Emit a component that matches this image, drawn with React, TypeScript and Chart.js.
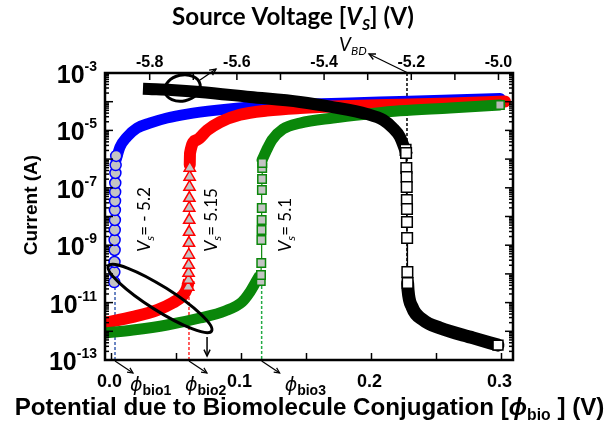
import React, { useEffect, useRef } from "react";
import { Chart, registerables } from "chart.js";
Chart.register(...registerables);

// ---------- axis ticks ----------
const phiTickValues = [0, 0.05, 0.1, 0.15, 0.2, 0.25, 0.3];
const phiLabelValues = [0, 0.1, 0.2, 0.3];
const phiLabels = ["0.0", "0.1", "0.2", "0.3"];
const vsTickValues = [-5.8, -5.7, -5.6, -5.5, -5.4, -5.3, -5.2, -5.1, -5.0];
const vsLabelValues = [-5.8, -5.6, -5.4, -5.2, -5.0];
const vsLabels = ["-5.8", "-5.6", "-5.4", "-5.2", "-5.0"];
const yLabelExponents = [-3, -5, -7, -9, -11, -13];
const logMultipliers = [1, 2, 3, 4, 5, 6, 7, 8, 9];

// ---------- Vs = -5.2 (blue circles) ----------
const blueMarkPhi = [0.0021, 0.0022, 0.0023, 0.0024, 0.0024, 0.0025, 0.0026, 0.0026, 0.0027, 0.0028, 0.0029, 0.003, 0.0032, 0.0036];
const blueMarkCurrent = [5.2e-11, 1.16e-10, 2.6e-10, 6.8e-10, 1.52e-9, 3.39e-9, 7.55e-9, 1.68e-8, 3.47e-8, 7.14e-8, 1.47e-7, 3.28e-7, 6.2e-7, 1.29e-6];
const blueBandPhi = [0.0035, 0.0065, 0.0119, 0.0196, 0.0296, 0.0427, 0.0581, 0.0812, 0.1065, 0.132, 0.153, 0.183, 0.222, 0.261, 0.299];
const blueBandCurrent = [9.3e-7, 2.6e-6, 5.9e-6, 1.2e-5, 1.8e-5, 2.7e-5, 3.7e-5, 5.1e-5, 6.6e-5, 7.7e-5, 8.3e-5, 9.0e-5, 1.02e-4, 1.15e-4, 1.29e-4];

// ---------- Vs = -5.15 (red triangles) ----------
const redLowPhi = [-0.005, 0.0165, 0.035, 0.0473, 0.055, 0.0581, 0.0596];
const redLowCurrent = [2.0e-12, 3.2e-12, 5.5e-12, 1.0e-11, 1.8e-11, 3.2e-11, 6.1e-11];
const redMarkPhi = [0.059, 0.0592, 0.0593, 0.0594, 0.0595, 0.0596, 0.0597, 0.0598, 0.0598, 0.0599, 0.06, 0.0601, 0.0602];
const redMarkCurrent = [3.5e-11, 6.1e-11, 1.07e-10, 2.04e-10, 4.56e-10, 1.19e-9, 2.88e-9, 7.55e-9, 1.98e-8, 4.41e-8, 1.07e-7, 2.38e-7, 4.9e-7];
const redHighPhi = [0.0602, 0.0604, 0.0658, 0.0735, 0.0835, 0.0988, 0.1196, 0.145, 0.1835, 0.2223, 0.2608, 0.3027];
const redHighCurrent = [6.3e-7, 1.6e-6, 4.7e-6, 1.0e-5, 1.95e-5, 3.5e-5, 4.9e-5, 6.0e-5, 7.1e-5, 7.9e-5, 8.7e-5, 1.02e-4];

// ---------- Vs = -5.1 (green squares) ----------
const greenLowPhi = [-0.005, 0.0165, 0.0427, 0.068, 0.0873, 0.1004, 0.1065, 0.111, 0.1142];
const greenLowCurrent = [8.7e-13, 1.11e-12, 1.66e-12, 2.9e-12, 5.1e-12, 1.05e-11, 2.34e-11, 5.2e-11, 9.2e-11];
const greenMarkPhi = [0.1148, 0.115, 0.1152, 0.1153, 0.1154, 0.1155, 0.1156, 0.1157, 0.1158, 0.1159, 0.116];
const greenMarkCurrent = [5.66e-11, 9.17e-11, 2.4e-10, 1.52e-9, 3.39e-9, 7.55e-9, 1.98e-8, 8.38e-8, 2.03e-7, 4.9e-7, 7.31e-7];
const greenHighPhi = [0.1158, 0.1204, 0.1235, 0.1319, 0.145, 0.1704, 0.1965, 0.2219, 0.2604, 0.2988];
const greenHighCurrent = [9.3e-7, 2.6e-6, 4.7e-6, 1.12e-5, 1.8e-5, 2.7e-5, 3.7e-5, 4.8e-5, 6.0e-5, 7.7e-5];

// ---------- Source-voltage sweep (black squares) ----------
const blackHighPhi = [0.0288, 0.046, 0.068, 0.1065, 0.145, 0.17, 0.1965, 0.209, 0.2165, 0.2219, 0.2258];
const blackHighCurrent = [2.77e-4, 2.57e-4, 2.19e-4, 1.46e-4, 9.8e-5, 6.5e-5, 3.7e-5, 2.3e-5, 1.2e-5, 5.9e-6, 2.1e-6];
const blackMarkPhi = [0.2262, 0.2266, 0.2268, 0.227, 0.2271, 0.2272, 0.2273, 0.2273, 0.2274, 0.2276, 0.2278];
const blackMarkCurrent = [2.1e-6, 1.63e-6, 4.9e-7, 2.38e-7, 1.07e-7, 3.76e-8, 1.82e-8, 6.43e-9, 1.78e-9, 1.16e-10, 4.82e-11];
const blackLowPhi = [0.2278, 0.2281, 0.2312, 0.2396, 0.2527, 0.2781, 0.2973];
const blackLowCurrent = [4.8e-11, 2.75e-11, 7.1e-12, 2.5e-12, 1.3e-12, 5.9e-13, 3.3e-13];

// ---------- reference lines ----------
const phiBio = [0.0027, 0.0596, 0.1155];
const phiBioTop = [5.2e-11, 3.5e-11, 5.66e-11];
const phiBioNames = ["bio1", "bio2", "bio3"];
const phiVBD = 0.2273;
const vbdLineCurrent = [1e-3, 1.16e-10];

const vsNoteTexts = ["= - 5.2", "= 5.15", "= 5.1"];
const vsNotePhi = [0.0296, 0.0812, 0.1381];
const vsNoteCurrent = 5.8e-10;

const BLUE = "#0000ff";
const RED = "#ff0000";
const GREEN = "#0a870a";
const GRAY = "#c4c4c4";

const pts = (xs: number[], ys: number[]) => xs.map((x, i) => ({ x, y: ys[i] }));

const band = (xs: number[], ys: number[], color: string, width: number, cap: string) => ({
  data: pts(xs, ys),
  showLine: true,
  borderColor: color,
  borderWidth: width,
  borderCapStyle: cap,
  borderJoinStyle: "round",
  pointRadius: 0,
  cubicInterpolationMode: "monotone",
  clip: 0,
  xAxisID: "x",
  yAxisID: "y",
});

const markers = (xs: number[], ys: number[], color: string, style: string, r: number, fill: string) => ({
  data: pts(xs, ys),
  showLine: true,
  borderColor: color,
  borderWidth: 1.2,
  pointStyle: style,
  pointRadius: r,
  pointBorderColor: color,
  pointBackgroundColor: fill,
  pointBorderWidth: 1.5,
  clip: 0,
  xAxisID: "x",
  yAxisID: "y",
});

const dotted = (xs: number[], ys: number[], color: string) => ({
  data: pts(xs, ys),
  showLine: true,
  borderColor: color,
  borderWidth: 1.5,
  borderDash: [3, 2],
  pointRadius: 0,
  clip: 0,
  xAxisID: "x",
  yAxisID: "y",
});

type Part = { t: string; f: string; dy?: number };
function measureParts(ctx: CanvasRenderingContext2D, parts: Part[]) {
  let w = 0;
  for (const p of parts) {
    ctx.font = p.f;
    w += ctx.measureText(p.t).width;
  }
  return w;
}
function drawParts(ctx: CanvasRenderingContext2D, parts: Part[], x: number, y: number, align: string) {
  const w = measureParts(ctx, parts);
  let cx = align === "center" ? x - w / 2 : align === "right" ? x - w : x;
  ctx.textAlign = "left";
  ctx.textBaseline = "alphabetic";
  for (const p of parts) {
    ctx.font = p.f;
    ctx.fillText(p.t, cx, y + (p.dy || 0));
    cx += ctx.measureText(p.t).width;
  }
  return w;
}

function arrow(ctx: CanvasRenderingContext2D, x1: number, y1: number, x2: number, y2: number, head = 7, lw = 1.5) {
  ctx.lineWidth = lw;
  ctx.beginPath();
  ctx.moveTo(x1, y1);
  ctx.lineTo(x2, y2);
  ctx.stroke();
  const ang = Math.atan2(y2 - y1, x2 - x1);
  ctx.beginPath();
  ctx.moveTo(x2 - head * Math.cos(ang - 0.45), y2 - head * Math.sin(ang - 0.45));
  ctx.lineTo(x2, y2);
  ctx.lineTo(x2 - head * Math.cos(ang + 0.45), y2 - head * Math.sin(ang + 0.45));
  ctx.stroke();
}

const overlay = {
  id: "overlay",
  afterDraw(chart: any) {
    const { ctx, chartArea: a, scales } = chart;
    const sx = scales.x, sy = scales.y, st = scales.xTop;
    ctx.save();
    ctx.strokeStyle = "#000";
    ctx.fillStyle = "#000";
    const seg = (x1: number, y1: number, x2: number, y2: number) => {
      ctx.beginPath();
      ctx.moveTo(x1, y1);
      ctx.lineTo(x2, y2);
      ctx.stroke();
    };
    // ticks
    ctx.lineWidth = 1.5;
    phiTickValues.forEach((v) => {
      const px = sx.getPixelForValue(v);
      seg(px, a.bottom, px, a.bottom - 7);
    });
    vsTickValues.forEach((v) => {
      const px = st.getPixelForValue(v);
      seg(px, a.top, px, a.top + 7);
    });
    for (let e = -13; e < -3; e++) {
      for (const m of logMultipliers) {
        const py = sy.getPixelForValue(m * Math.pow(10, e));
        const len = m === 1 ? 8 : 4;
        seg(a.left, py, a.left + len, py);
        seg(a.right, py, a.right - len, py);
      }
    }
    // frame
    ctx.lineWidth = 2.5;
    ctx.strokeRect(a.left, a.top, a.right - a.left, a.bottom - a.top);

    // y tick labels
    yLabelExponents.forEach((e) => {
      const py = sy.getPixelForValue(Math.pow(10, e));
      drawParts(ctx, [
        { t: "10", f: "bold 25px 'Liberation Sans'", dy: 10 },
        { t: String(e), f: "bold 14px 'Liberation Sans'", dy: -2 },
      ], a.left - 8, py, "right");
    });
    // bottom tick labels
    phiLabelValues.forEach((v, i) => {
      const px = sx.getPixelForValue(v);
      drawParts(ctx, [{ t: phiLabels[i], f: "bold 18px 'Liberation Sans'" }], px - 2, a.bottom + 27, "center");
    });
    // top tick labels
    vsLabelValues.forEach((v, i) => {
      const px = st.getPixelForValue(v);
      drawParts(ctx, [{ t: vsLabels[i], f: "bold 16px 'Liberation Sans'" }], px, a.top - 6, "center");
    });

    // top title (fit to width)
    const tParts = (s: number): Part[] => [
      { t: "Source Voltage [", f: `bold ${s}px Lato` },
      { t: "V", f: `italic bold ${s}px Lato` },
      { t: "S", f: `italic bold ${s * 0.65}px Lato`, dy: s * 0.22 },
      { t: "] (V)", f: `bold ${s}px Lato` },
    ];
    const ts = (20 * 242) / measureParts(ctx, tParts(20));
    drawParts(ctx, tParts(ts), 293, 25, "center");

    // left title
    ctx.save();
    ctx.translate(37, 205);
    ctx.rotate(-Math.PI / 2);
    drawParts(ctx, [{ t: "Current (A)", f: "bold 19px 'Liberation Sans'" }], 0, 0, "center");
    ctx.restore();

    // bottom title (fit to width)
    const bParts = (s: number): Part[] => [
      { t: "Potential due to Biomolecule Conjugation [", f: `bold ${s}px 'Liberation Sans'` },
      { t: "\u03D5", f: `italic bold ${s}px 'Liberation Sans'` },
      { t: "bio", f: `bold ${s * 0.65}px 'Liberation Sans'`, dy: 5 },
      { t: " ] (V)", f: `bold ${s}px 'Liberation Sans'` },
    ];
    const bs = (20 * 590) / measureParts(ctx, bParts(20));
    drawParts(ctx, bParts(bs), 309.5, 415, "center");

    // phi_bio labels and arrows
    const labelOffsets = [15, -4, 23];
    phiBio.forEach((v, i) => {
      const px = sx.getPixelForValue(v);
      ctx.strokeStyle = "#000";
      arrow(ctx, px, a.bottom + 1, px + 18, a.bottom + 13, 6, 1.2);
      drawParts(ctx, [
        { t: "\u03D5", f: "italic 19px 'DejaVu Sans'" },
        { t: phiBioNames[i], f: "bold 14px 'Liberation Sans'", dy: 4 },
      ], px + labelOffsets[i], a.bottom + 31, "left");
    });

    // V_BD label and arrow
    const vbx = sx.getPixelForValue(phiVBD);
    arrow(ctx, vbx + 1, a.top, vbx - 38, a.top - 19, 7, 1.3);
    drawParts(ctx, [
      { t: "V", f: "italic 19px Lato" },
      { t: "BD", f: "italic 12px Lato", dy: 4 },
    ], vbx - 68, a.top - 22, "left");

    // ellipses
    ctx.lineWidth = 3;
    const e1x = sx.getPixelForValue(0.0373), e1y = sy.getPixelForValue(1.39e-11);
    ctx.beginPath();
    ctx.ellipse(e1x, e1y, 61, 12, (32.3 * Math.PI) / 180, 0, Math.PI * 2);
    ctx.stroke();
    const e2x = sx.getPixelForValue(0.0546), e2y = sy.getPixelForValue(3.0e-4);
    ctx.beginPath();
    ctx.ellipse(e2x, e2y, 18, 13, (-12 * Math.PI) / 180, 0, Math.PI * 2);
    ctx.stroke();
    // ellipse arrows
    const ax1 = sx.getPixelForValue(0.0735);
    arrow(ctx, ax1, sy.getPixelForValue(6.3e-13), ax1, sy.getPixelForValue(1.38e-13), 7, 1.5);
    arrow(ctx, sx.getPixelForValue(0.0681), sy.getPixelForValue(5.7e-4), sx.getPixelForValue(0.0804), sy.getPixelForValue(1.38e-3), 7, 1.3);

    // rotated Vs labels
    vsNoteTexts.forEach((t, i) => {
      const px = sx.getPixelForValue(vsNotePhi[i]);
      const py = sy.getPixelForValue(vsNoteCurrent);
      ctx.save();
      ctx.translate(px, py);
      ctx.rotate(-Math.PI / 2);
      drawParts(ctx, [
        { t: "V", f: "italic 18px Lato" },
        { t: "s", f: "italic 12px Lato", dy: 4 },
        { t: t, f: "17px Lato" },
      ], 0, 0, "left");
      ctx.restore();
    });
    ctx.restore();
  },
};

export default function App() {
  const ref = useRef<HTMLCanvasElement | null>(null);
  useEffect(() => {
    if (!ref.current) return;
    const last = (arr: number[]) => arr[arr.length - 1];
    const datasets: any[] = [
      markers([last(blackLowPhi)], [last(blackLowCurrent)], "#000", "rect", 7, "#fff"),
      markers(blackMarkPhi, blackMarkCurrent, "#000", "rect", 7.5, "#fff"),
      band(blackHighPhi, blackHighCurrent, "#000", 12, "square"),
      band(blackLowPhi, blackLowCurrent, "#000", 13, "round"),
      markers([last(greenHighPhi)], [last(greenHighCurrent)], GREEN, "rect", 6, "#b8b8b8"),
      markers(greenMarkPhi, greenMarkCurrent, GREEN, "rect", 6, GRAY),
      band(greenHighPhi, greenHighCurrent, GREEN, 11, "round"),
      band(greenLowPhi, greenLowCurrent, GREEN, 11, "butt"),
      markers(redMarkPhi, redMarkCurrent, RED, "triangle", 6.5, GRAY),
      band(redHighPhi, redHighCurrent, RED, 12, "round"),
      band(redLowPhi, redLowCurrent, RED, 12, "butt"),
      markers(blueMarkPhi, blueMarkCurrent, BLUE, "circle", 5.5, GRAY),
      band(blueBandPhi, blueBandCurrent, BLUE, 11, "round"),
      dotted([phiVBD, phiVBD], vbdLineCurrent, "#000"),
      dotted([phiBio[0], phiBio[0]], [phiBioTop[0], 1e-13], "#3a5fb0"),
      dotted([phiBio[1], phiBio[1]], [phiBioTop[1], 1e-13], "#ff2a2a"),
      dotted([phiBio[2], phiBio[2]], [phiBioTop[2], 1e-13], "#22aa44"),
    ];
    const chart = new Chart(ref.current, {
      type: "scatter",
      data: { datasets },
      options: {
        responsive: false,
        animation: false,
        events: [],
        layout: { padding: { left: 105, right: 100, top: 73, bottom: 64 } },
        plugins: { legend: { display: false }, tooltip: { enabled: false } },
        scales: {
          x: { type: "linear", min: -0.005, max: 0.30885, display: false },
          xTop: { type: "linear", position: "top", min: -5.9025, max: -4.9667, display: false },
          y: { type: "logarithmic", min: 1e-13, max: 1e-3, display: false },
        },
      } as any,
      plugins: [overlay as any],
    });
    return () => chart.destroy();
  }, []);
  return (
    <div style={{ position: "absolute", left: 0, top: 0, width: 613, height: 424, background: "#fff" }}>
      <canvas ref={ref} width={613} height={424} />
    </div>
  );
}
